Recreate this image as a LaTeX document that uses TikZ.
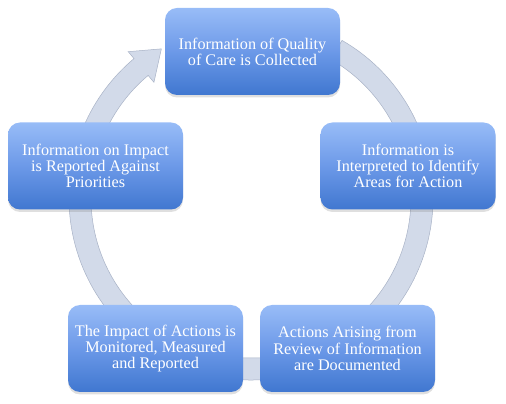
\documentclass[tikz,border=0pt]{standalone}
\usepackage{fontspec}
\setmainfont{Liberation Serif}
\usetikzlibrary{calc,shadows}
\definecolor{boxtop}{RGB}{152,188,247}
\definecolor{boxmid}{RGB}{108,153,232}
\definecolor{boxbot}{RGB}{64,119,208}
\definecolor{ringfill}{RGB}{210,218,233}
\definecolor{ringline}{RGB}{168,178,198}
\tikzset{
  stagebox/.style={rectangle, rounded corners=12pt, minimum width=175pt, minimum height=87pt,
    top color=boxtop, bottom color=boxbot, middle color=boxmid, draw=none,
    drop shadow={opacity=0.25, shadow xshift=0pt, shadow yshift=-2.5pt},
    text=white, align=center, font=\fontsize{16.2}{16.2}\selectfont, inner sep=2pt},
  ring/.style={fill=ringfill, draw=ringline, line width=0.5pt}
}
\begin{document}
\begin{tikzpicture}[x=1pt,y=1pt]
\useasboundingbox (0,0) rectangle (506,404);
\coordinate (c) at (251,206);
\fill[ring] ($(c)+(60:182)$) arc[start angle=60, end angle=-230, radius=182]
  -- ($(c)+(130:191)$) -- ($(c)+(121:174)$) -- ($(c)+(130:151)$)
  -- ($(c)+(130:160)$) arc[start angle=-230, end angle=60, radius=160] -- cycle;
\node[stagebox] (n1) at (252.5,352.5) {Information of Quality\\of Care is Collected};
\node[stagebox] (n2) at (408,238) {Information is\\Interpreted to Identify\\Areas for Action};
\node[stagebox] (n3) at (347.5,55.5) {Actions Arising from\\Review of Information\\are Documented};
\node[stagebox] (n4) at (155.5,55.5) {The Impact of Actions is\\Monitored, Measured\\and Reported};
\node[stagebox] (n5) at (95.5,238) {Information on Impact\\is Reported Against\\Priorities};
\end{tikzpicture}
\end{document}
